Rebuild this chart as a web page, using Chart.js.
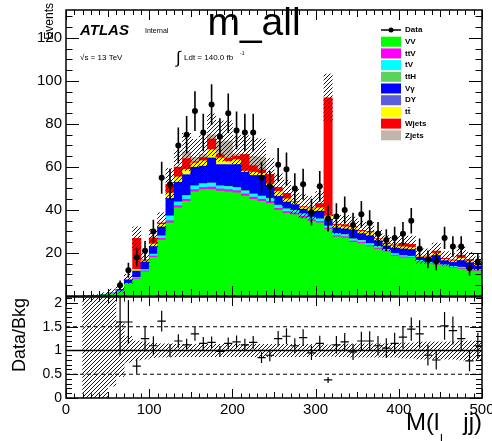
<!DOCTYPE html>
<html><head><meta charset="utf-8">
<script src="https://cdn.jsdelivr.net/npm/chart.js@4.4.1/dist/chart.umd.min.js"></script>
<style>
html,body{margin:0;padding:0;background:#fff;}
#wrap{position:relative;width:492px;height:441px;overflow:hidden;}
canvas{position:absolute;left:0;top:0;}
</style></head><body>
<div id="wrap"><canvas id="main" width="492" height="441"></canvas><canvas id="ratio" width="492" height="441"></canvas></div>
<script>
// ---- data (10 GeV bins, 0-500) ----
const binCenters = [5,15,25,35,45,55,65,75,85,95,105,115,125,135,145,155,165,175,185,195,205,215,225,235,245,255,265,275,285,295,305,315,325,335,345,355,365,375,385,395,405,415,425,435,445,455,465,475,485,495];
const VV     = [0,0,0.1,0.3,0.6,1.1,2.2,5.4,7.8,11.3, 18,26,34,41,44,48.5,49.5,49.5,48.8,48.5, 48,46.5,45,44,43,40,38.5,37.8,36.3,34.8, 34,31,27.5,27,25,24.5,23,21.8,20.6,18.6, 17.8,17.5,15.7,14.8,14.5,13.7,13,12.6,11.7,11.7];
const ttV    = [0,0,0,0,0,0,0.1,0.2,0.3,0.4, 0.6,0.8,1,1,1,1,1,1.2,1,1, 1,1,1,1,1,0.8,0.8,0.8,0.8,0.7, 0.7,0.6,0.6,0.6,0.6,0.5,0.5,0.5,0.4,0.4, 0.4,0.4,0.3,0.3,0.3,0.3,0.3,0.3,0.3,0.3];
const tV     = [0,0,0,0,0,0.05,0.1,0.3,0.4,0.5, 0.8,1,2,1.5,1.5,1.5,1.5,1.6,1.2,1.2, 1.2,1.2,1.2,1.2,1.2,1.2,1,1,1,1, 1,0.8,0.8,0.8,0.8,0.7,0.7,0.6,0.6,0.6, 0.5,0.5,0.5,0.4,0.4,0.4,0.4,0.4,0.3,0.3];
const ttH    = [0,0,0,0,0,0,0,0,0.1,0.1, 0.1,0.2,0.3,0.3,0.3,0.3,0.3,0.3,0.3,0.3, 0.3,0.3,0.3,0.3,0.3,0.3,0.3,0.3,0.2,0.2, 0.2,0.2,0.2,0.2,0.2,0.2,0.2,0.2,0.1,0.1, 0.1,0.1,0.1,0.1,0.1,0.1,0.1,0.1,0.1,0.1];
const Vgamma = [0,0,0,0,0.1,0.3,0.6,1.6,3.0,3.5, 3.5,4.0,8,9,9.5,8.5,8,11.5,9.7,10, 10.5,8.5,8.5,9.5,5.5,4,3,2.5,2,2.5, 3.5,3,2.5,2.5,4,3,3.5,2.5,1.5,2.5, 3,3,1.3,2,3.5,1.8,1.8,3,3,1.5];
const DY     = [0,0,0,0,0,0,0,0,0,0, 0,0.1,0.1,0.1,0.1,0.1,0.1,0.1,0.1,0.1, 0.1,0.1,0.1,0.1,0.1,0.1,0.1,0.1,0.1,0.1, 0.1,0.1,0.1,0.1,0.1,0.1,0.1,0.1,0.1,0.1, 0.1,0.1,0.1,0.1,0.1,0.1,0.1,0.1,0.1,0.1];
const ttbar  = [0,0,0,0,0,0,0.1,0.2,0.8,0.6, 1.2,1.2,2.5,2.5,2.5,2,2.5,3.9,3.1,1.5, 2.3,0.5,1.5,1,1,2.3,1.5,1.2,1,1.3, 1.5,1.5,1.2,1,1.2,1,1.5,0.8,0.8,1, 1,1,0.3,0.5,1,0.6,0.6,1,0.8,0.6];
const Wjets  = [0,0,0,0,0,0,0,0.1,14.4,0.4, 2.8,0.7,4,4.5,5,0.5,1.5,4.9,1.5,1.5, 1.6,7.7,3,1.5,4.5,1.8,2.5,0.3,0.3,0.4, 2,55,0.5,1,0.3,0.5,0.5,0.3,0.5,0.5, 1.6,1.4,0.2,0.4,1,0.5,0.5,1.5,0.7,0.6];
const Zjets  = [0,0,0,0,0,0,0,0,0,0, 0,0,0.1,0.1,3.1,2.1,1.6,2,6.3,8, 1,0.2,4.4,6,0,0,0,0,0,0, 0,0,0,0,0,0,0,0,0,0, 0,0,0,0,0,0,0,0,0,0];
const dataCounts = [null,null,null,null,null,null,5,12,18,21, 30,55,52,70,75,86,76,89,74,85, 77,76,76,55,51,61,59,50,52,39, 51,36,37,40,33,38,34,29,26,27, 29,35,22,17,16,27,23,23,13,16];
const ratioVals  = [null,null,null,null,null,null,1.6,1.6,0.67,1.25, 1.1,1.62,1.0,1.2,1.12,1.35,1.15,1.17,0.98,1.15, 1.18,1.12,1.17,0.85,0.9,1.25,1.3,1.1,1.27,0.95, 1.15,0.38,1.12,1.18,0.97,1.2,1.2,1.1,1.05,1.15, 1.28,1.45,1.35,0.9,0.8,1.52,1.42,1.25,0.78,1.1];
const bandLo = [null,null,0,0,0,0.25,0.45,0.75,0.8,0.82, 0.85,0.86,0.86,0.87,0.87,0.87,0.87,0.87,0.87,0.87, 0.87,0.87,0.87,0.87,0.87,0.87,0.87,0.87,0.87,0.87, 0.87,0.88,0.87,0.87,0.86,0.86,0.86,0.86,0.86,0.86, 0.84,0.84,0.82,0.82,0.82,0.82,0.82,0.8,0.8,0.8];
const bandHi = [null,null,2.2,2.2,2.2,2.2,1.6,1.3,1.2,1.18, 1.15,1.14,1.14,1.13,1.13,1.13,1.13,1.13,1.13,1.13, 1.13,1.13,1.13,1.13,1.13,1.13,1.13,1.13,1.13,1.13, 1.13,1.12,1.13,1.13,1.14,1.14,1.14,1.14,1.14,1.14, 1.16,1.16,1.18,1.18,1.18,1.18,1.18,1.2,1.2,1.2];
const xTickLabels = [0,100,200,300,400,500];
const mainYTickLabels = [20,40,60,80,100,120];
const ratioYTickLabels = [0,0.5,1,1.5,2];
const ratioYTickText = ['0','0.5','1','1.5','2'];

const components = [
  {label:'VV',    data:VV,     color:'#00ff00'},
  {label:'ttV',   data:ttV,    color:'#ff00ff'},
  {label:'tV',    data:tV,     color:'#00ffff'},
  {label:'ttH',   data:ttH,    color:'#5bd35b'},
  {label:'V\u03b3', data:Vgamma, color:'#0000ff'},
  {label:'DY',    data:DY,     color:'#5c5cdc'},
  {label:'tt\u0304', data:ttbar, color:'#ffff00'},
  {label:'Wjets', data:Wjets,  color:'#ff0000'},
  {label:'Zjets', data:Zjets,  color:'#c1b6ab'}
];

const FONT = '"Liberation Sans", Arial, Helvetica, sans-serif';

// hatch pattern
const tile = document.createElement('canvas'); tile.width = 4; tile.height = 4;
(function(){ const g = tile.getContext('2d'); g.strokeStyle = '#000'; g.lineWidth = 0.9;
  g.beginPath(); g.moveTo(0,4); g.lineTo(4,0); g.moveTo(-1,1); g.lineTo(1,-1); g.moveTo(3,5); g.lineTo(5,3); g.stroke(); })();
const hatch = document.getElementById('main').getContext('2d').createPattern(tile, 'repeat');

// stacked floating bars
const totals = binCenters.map(() => 0);
const stackSets = components.map(c => {
  const pts = binCenters.map((x, i) => {
    const v = c.data[i]; const b = totals[i]; totals[i] = b + v;
    return {x, y: v > 0 ? [b, b + v] : null};
  });
  return {type:'bar', label:c.label, data:pts, backgroundColor:c.color, borderWidth:0, order:3,
          grouped:false, barPercentage:1, categoryPercentage:1};
});
const mainHatch = {type:'bar', label:'unc', order:2, grouped:false, barPercentage:1, categoryPercentage:1, borderWidth:0,
  backgroundColor:hatch,
  data: binCenters.map((x,i) => ({x, y: (bandLo[i]===null || totals[i]<=0) ? null : [totals[i]*bandLo[i], totals[i]*bandHi[i]]}))};
const dataSet = {type:'line', label:'Data', order:1, showLine:false, pointRadius:3, pointBackgroundColor:'#000', pointBorderColor:'#000', pointBorderWidth:0,
  data: binCenters.map((x,i) => ({x, y:dataCounts[i]}))};

function frameTicks(chart, cfg){
  const {ctx, chartArea:a, scales:{x, y}} = chart;
  ctx.save();
  ctx.strokeStyle = '#000'; ctx.lineWidth = 1;
  ctx.beginPath();
  for (let k = 0; k <= 50; k++) {
    const v = k*10; const px = Math.round(x.getPixelForValue(v)) + 0.5;
    const L = (k % 10 === 0) ? cfg.xMaj : (k % 5 === 0 ? cfg.xMid : cfg.xMin);
    ctx.moveTo(px, a.bottom); ctx.lineTo(px, a.bottom - L);
    ctx.moveTo(px, a.top); ctx.lineTo(px, a.top + L);
  }
  for (let k = 0; k <= cfg.yN; k++) {
    const v = k*cfg.yStep; if (v > y.max) break;
    const py = Math.round(y.getPixelForValue(v)) + 0.5;
    const L = (k % cfg.yMajEvery === 0) ? cfg.yMaj : cfg.yMin;
    ctx.moveTo(a.left, py); ctx.lineTo(a.left + L, py);
    ctx.moveTo(a.right, py); ctx.lineTo(a.right - L, py);
  }
  ctx.stroke();
  ctx.lineWidth = 1.5;
  ctx.strokeRect(a.left, a.top, a.right - a.left, a.bottom - a.top);
  ctx.restore();
}

const mainPlugin = {
  id:'mainDecor',
  afterDatasetsDraw(chart){
    const {ctx, chartArea:a, scales:{x, y}} = chart;
    ctx.save();
    ctx.beginPath(); ctx.rect(a.left, a.top, a.right-a.left, a.bottom-a.top); ctx.clip();
    ctx.strokeStyle = '#000'; ctx.lineWidth = 1.6;
    ctx.beginPath();
    binCenters.forEach((c, i) => {
      const n = dataCounts[i]; if (n === null) return;
      const e = Math.sqrt(n); const px = x.getPixelForValue(c);
      ctx.moveTo(px, y.getPixelForValue(n - e)); ctx.lineTo(px, y.getPixelForValue(n + e));
    });
    ctx.stroke();
    ctx.restore();
  },
  afterDraw(chart){
    const {ctx, scales:{x, y}} = chart;
    frameTicks(chart, {xMaj:10, xMid:7, xMin:5, yN:30, yStep:5, yMajEvery:4, yMaj:13, yMin:6.5});
    ctx.save();
    ctx.fillStyle = '#000';
    ctx.font = '15px ' + FONT; ctx.textAlign = 'right'; ctx.textBaseline = 'middle';
    mainYTickLabels.forEach(v => ctx.fillText(String(v), 62, y.getPixelForValue(v)));
    // y title
    ctx.save(); ctx.translate(53, 3); ctx.rotate(-Math.PI/2);
    ctx.font = '12px ' + FONT; ctx.textAlign = 'right'; ctx.textBaseline = 'alphabetic';
    ctx.fillText('Events', 0, 0); ctx.restore();
    // title
    ctx.font = '39px ' + FONT; ctx.textAlign = 'center'; ctx.textBaseline = 'alphabetic';
    ctx.fillText('m_all', 254, 35);
    // ATLAS
    ctx.textAlign = 'left';
    ctx.font = 'italic bold 15px ' + FONT; ctx.fillText('ATLAS', 80, 35);
    ctx.font = '7px ' + FONT; ctx.fillText('Internal', 145, 33);
    ctx.font = '8px ' + FONT; ctx.fillText('\u221as = 13 TeV', 80, 60);
    ctx.font = '17px ' + FONT; ctx.fillText('\u222b', 176, 63);
    ctx.font = '8px ' + FONT; ctx.fillText('Ldt = 140.0 fb', 184, 60);
    ctx.font = '5px ' + FONT; ctx.fillText('-1', 240, 55);
    // legend
    const lx = 381, ly0 = 30, dy = 11.7;
    ctx.strokeStyle = '#000'; ctx.lineWidth = 1.5;
    ctx.beginPath(); ctx.moveTo(lx, ly0); ctx.lineTo(lx + 20, ly0); ctx.stroke();
    ctx.beginPath(); ctx.arc(lx + 10, ly0, 2.5, 0, Math.PI*2); ctx.fill();
    ctx.font = 'bold 8px ' + FONT; ctx.textBaseline = 'middle';
    ctx.fillText('Data', lx + 24, ly0);
    components.forEach((c, i) => {
      const yy = ly0 + dy*(i+1);
      ctx.fillStyle = c.color; ctx.fillRect(lx, yy - 5, 20, 10);
      ctx.fillStyle = '#000'; ctx.fillText(c.label, lx + 24, yy);
    });
    ctx.restore();
  }
};

new Chart(document.getElementById('main'), {
  type:'bar',
  data:{datasets:[...stackSets, mainHatch, dataSet]},
  options:{
    responsive:false, animation:false, devicePixelRatio:1,
    layout:{padding:{left:66, right:10, top:10, bottom:145}},
    plugins:{legend:{display:false}, tooltip:{enabled:false}},
    scales:{
      x:{type:'linear', min:0, max:500, offset:false, display:false, grid:{offset:false}},
      y:{type:'linear', min:0, max:133, display:false}
    }
  },
  plugins:[mainPlugin]
});

// ratio panel
const ratioBand = {type:'bar', label:'band', order:3, grouped:false, barPercentage:1, categoryPercentage:1, borderWidth:0,
  backgroundColor:hatch, data: binCenters.map((x,i) => ({x, y: bandLo[i]===null ? null : [bandLo[i], bandHi[i]]}))};
const refLine = (v, dash, w) => ({type:'line', order:2, data:[{x:0,y:v},{x:500,y:v}], borderColor:'#000', borderWidth:w, borderDash:dash, pointRadius:0});
const ratioPts = {type:'line', order:1, showLine:false, pointRadius:0, data: binCenters.map((x,i) => ({x, y:ratioVals[i]}))};

const ratioPlugin = {
  id:'ratioDecor',
  afterDatasetsDraw(chart){
    const {ctx, chartArea:a, scales:{x, y}} = chart;
    ctx.save();
    ctx.beginPath(); ctx.rect(a.left, a.top, a.right-a.left, a.bottom-a.top); ctx.clip();
    ctx.strokeStyle = '#000'; ctx.lineWidth = 1.2;
    ctx.beginPath();
    binCenters.forEach((c, i) => {
      const r = ratioVals[i]; if (r === null) return;
      const e = r / Math.sqrt(dataCounts[i]);
      const px = x.getPixelForValue(c), py = y.getPixelForValue(r);
      ctx.moveTo(x.getPixelForValue(c - 5), py); ctx.lineTo(x.getPixelForValue(c + 5), py);
      ctx.moveTo(px, y.getPixelForValue(r - e)); ctx.lineTo(px, y.getPixelForValue(r + e));
    });
    ctx.stroke();
    ctx.restore();
  },
  afterDraw(chart){
    const {ctx, scales:{x, y}} = chart;
    frameTicks(chart, {xMaj:9, xMid:6, xMin:4.5, yN:21, yStep:0.1, yMajEvery:5, yMaj:12, yMin:6});
    ctx.save(); ctx.fillStyle = '#000';
    ctx.font = '14px ' + FONT; ctx.textAlign = 'right'; ctx.textBaseline = 'middle';
    ratioYTickLabels.forEach((v, i) => ctx.fillText(ratioYTickText[i], 62, y.getPixelForValue(v)));
    ctx.font = '15px ' + FONT; ctx.textAlign = 'center'; ctx.textBaseline = 'alphabetic';
    xTickLabels.forEach(v => ctx.fillText(String(v), x.getPixelForValue(v), 414));
    // y title
    ctx.save(); ctx.translate(25, 335); ctx.rotate(-Math.PI/2);
    ctx.font = '18px ' + FONT; ctx.textAlign = 'center'; ctx.fillText('Data/Bkg', 0, 0); ctx.restore();
    // x title
    ctx.textAlign = 'left';
    ctx.font = '24px ' + FONT; ctx.fillText('M(l', 406, 430);
    ctx.font = '13px ' + FONT; ctx.fillText('l', 440, 443);
    ctx.font = '24px ' + FONT; ctx.textAlign = 'right'; ctx.fillText('jj)', 482, 430);
    ctx.restore();
  }
};

new Chart(document.getElementById('ratio'), {
  type:'bar',
  data:{datasets:[ratioBand, refLine(1, [], 1.5), refLine(0.5, [4,3], 1), refLine(1.5, [4,3], 1), ratioPts]},
  options:{
    responsive:false, animation:false, devicePixelRatio:1,
    layout:{padding:{left:66, right:10, top:297, bottom:43}},
    plugins:{legend:{display:false}, tooltip:{enabled:false}},
    scales:{
      x:{type:'linear', min:0, max:500, offset:false, display:false, grid:{offset:false}},
      y:{type:'linear', min:0, max:2.126, display:false}
    }
  },
  plugins:[ratioPlugin]
});
</script>
</body></html>
